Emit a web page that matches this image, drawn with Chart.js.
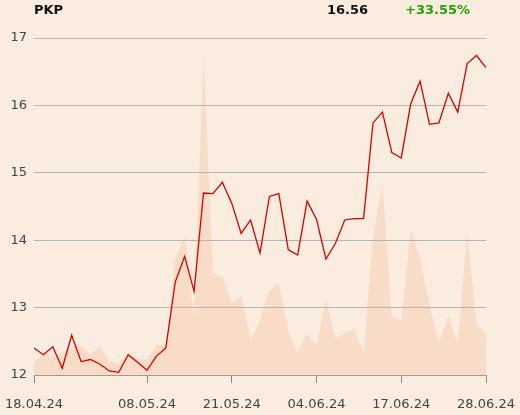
<!DOCTYPE html>
<html>
<head>
<meta charset="utf-8">
<script src="https://cdn.jsdelivr.net/npm/chart.js@4"></script>
<style>
  html, body { margin: 0; padding: 0; background: #fbece0; }
  #wrap { position: relative; width: 520px; height: 415px; }
  .hdr { position: absolute; top: 2px; font: bold 13px "DejaVu Sans", sans-serif; line-height: 16px; }
</style>
</head>
<body>
<div id="wrap">
  <canvas id="chart" width="520" height="415"></canvas>
  <div class="hdr" style="left:34px;color:#111">PKP</div>
  <div class="hdr" style="left:327px;color:#111">16.56</div>
  <div class="hdr" style="left:405px;color:#22a000">+33.55%</div>
</div>
<script>
// trading days (WSE)
const dates = [
  '18.04.24','19.04.24','22.04.24','23.04.24','24.04.24','25.04.24','26.04.24','29.04.24','30.04.24',
  '02.05.24','06.05.24','07.05.24','08.05.24','09.05.24','10.05.24','13.05.24','14.05.24','15.05.24',
  '16.05.24','17.05.24','20.05.24','21.05.24','22.05.24','23.05.24','24.05.24','27.05.24','28.05.24',
  '29.05.24','31.05.24','03.06.24','04.06.24','05.06.24','06.06.24','07.06.24','10.06.24','11.06.24',
  '12.06.24','13.06.24','14.06.24','17.06.24','18.06.24','19.06.24','20.06.24','21.06.24','24.06.24',
  '25.06.24','26.06.24','27.06.24','28.06.24'
];
const closePrices = [
  12.40, 12.30, 12.42, 12.10, 12.59, 12.20, 12.23, 12.16, 12.06, 12.04,
  12.30, 12.19, 12.07, 12.28, 12.40, 13.38, 13.76, 13.24, 14.70, 14.69,
  14.86, 14.55, 14.10, 14.30, 13.81, 14.65, 14.69, 13.86, 13.78, 14.58,
  14.31, 13.72, 13.95, 14.30, 14.32, 14.32, 15.74, 15.90, 15.30, 15.22,
  16.02, 16.36, 15.72, 15.74, 16.18, 15.90, 16.62, 16.74, 16.56
];
// volume, thousand shares
const volumes = [
  35, 65, 55, 65, 85, 87, 60, 87, 40, 33,
  65, 47, 47, 90, 90, 350, 415, 170, 960, 307,
  295, 215, 240, 105, 165, 253, 277, 130, 70, 123,
  90, 227, 108, 125, 138, 67, 415, 573, 175, 162,
  437, 350, 210, 97, 177, 93, 423, 152, 125
];
const tickDates = ['18.04.24','08.05.24','21.05.24','04.06.24','17.06.24','28.06.24'];

const font = { family: '"DejaVu Sans", sans-serif', size: 13 };

new Chart(document.getElementById('chart'), {
  type: 'line',
  data: {
    labels: dates,
    datasets: [
      {
        label: 'Kurs',
        data: closePrices,
        yAxisID: 'y',
        borderColor: '#d40000',
        borderWidth: 1.3,
        pointRadius: 0,
        tension: 0,
        fill: false,
        order: 0
      },
      {
        label: 'Wolumen',
        data: volumes,
        yAxisID: 'vol',
        borderWidth: 0,
        backgroundColor: 'rgba(240,170,120,0.24)',
        pointRadius: 0,
        tension: 0,
        fill: 'origin',
        order: 1
      }
    ]
  },
  options: {
    responsive: false,
    animation: false,
    layout: { padding: { top: 38, right: 34, left: 0, bottom: 0 } },
    plugins: { legend: { display: false }, tooltip: { enabled: false } },
    scales: {
      x: {
        offset: false,
        grid: { drawOnChartArea: false, drawTicks: true, tickLength: 8, color: '#888' },
        border: { display: true, color: '#999' },
        ticks: {
          autoSkip: false, maxRotation: 0, color: '#444', font: font, padding: 14,
          callback: function (v) {
            const lbl = this.getLabelForValue(v);
            return tickDates.includes(lbl) ? lbl : null;
          }
        },
        afterFit: s => { s.height = 40; s.paddingLeft = 0; s.paddingRight = 0; }
      },
      y: {
        position: 'left',
        min: 12, max: 17,
        ticks: { stepSize: 1, color: '#444', font: font, padding: 7 },
        grid: { color: '#b4b4b4', drawTicks: false },
        border: { display: false },
        afterFit: s => { s.width = 34; s.paddingTop = 0; s.paddingBottom = 0; }
      },
      vol: {
        display: false,
        min: 0, max: 1011
      }
    }
  }
});
</script>
</body>
</html>
